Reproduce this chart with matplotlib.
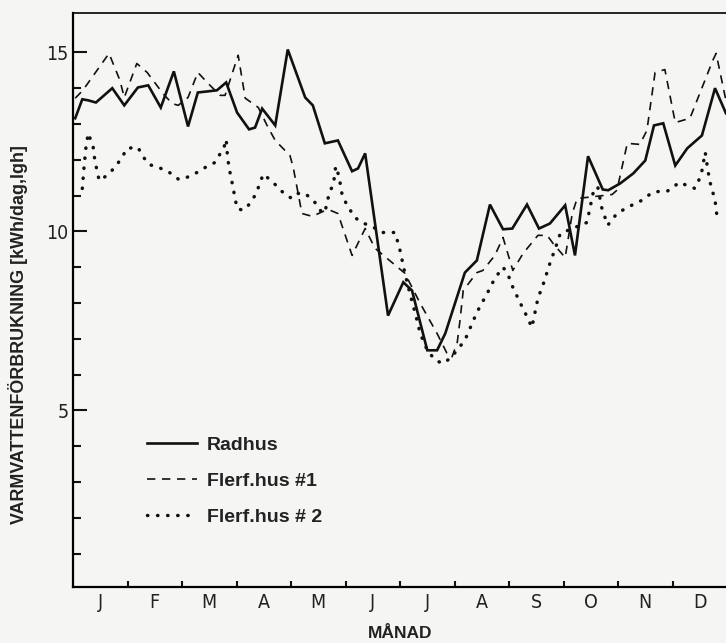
import matplotlib.pyplot as plt

# monthly axis: 0 = start of January, 12 = end of December
months = ["J", "F", "M", "A", "M", "J", "J", "A", "S", "O", "N", "D"]

radhus_x = [0.04, 0.17, 0.28, 0.42, 0.72, 0.94, 1.19, 1.38, 1.61, 1.85, 2.11, 2.29,
            2.64, 2.81, 3.01, 3.23, 3.34, 3.47, 3.71, 3.94, 4.26, 4.40, 4.62, 4.86,
            5.12, 5.23, 5.36, 5.78, 6.06, 6.22, 6.50, 6.68, 6.83, 7.19, 7.41, 7.65,
            7.89, 8.06, 8.33, 8.55, 8.75, 9.03, 9.21, 9.45, 9.72, 9.82, 10.04, 10.28,
            10.50, 10.66, 10.83, 11.05, 11.27, 11.54, 11.78, 11.98]
radhus_y = [13.16, 13.69, 13.66, 13.60, 14.00, 13.52, 14.02, 14.08, 13.46, 14.47, 12.93, 13.88,
            13.94, 14.16, 13.32, 12.85, 12.90, 13.43, 12.96, 15.08, 13.74, 13.52, 12.46, 12.54,
            11.68, 11.76, 12.18, 7.65, 8.58, 8.35, 6.68, 6.68, 7.15, 8.85, 9.19, 10.75,
            10.06, 10.08, 10.75, 10.08, 10.22, 10.73, 9.33, 12.10, 11.17, 11.15, 11.34, 11.62,
            11.98, 12.96, 13.02, 11.84, 12.32, 12.68, 14.00, 13.30]

flerf1_x = [0.04, 0.18, 0.66, 0.86, 0.94, 1.17, 1.36, 1.65, 1.82, 1.93, 2.11, 2.29,
            2.48, 2.70, 2.79, 3.03, 3.16, 3.40, 3.56, 3.71, 3.98, 4.04, 4.20, 4.39,
            4.59, 4.72, 4.86, 5.12, 5.36, 5.54, 5.87, 6.09, 6.37, 6.68, 6.86, 6.95,
            7.05, 7.10, 7.16, 7.41, 7.52, 7.74, 7.89, 8.07, 8.26, 8.53, 8.70, 8.81,
            9.03, 9.16, 9.25, 9.43, 9.89, 9.98, 10.17, 10.40, 10.53, 10.68, 10.86, 11.05,
            11.32, 11.74, 11.80, 11.98]
flerf1_y = [13.72, 13.94, 14.97, 14.22, 13.74, 14.69, 14.44, 13.85, 13.57, 13.52, 13.74, 14.44,
            14.13, 13.80, 13.80, 14.92, 13.72, 13.46, 12.96, 12.54, 12.12, 11.79, 10.50, 10.42,
            10.56, 10.59, 10.50, 9.33, 10.08, 9.53, 9.11, 8.83, 7.99, 7.15, 6.60, 6.48,
            6.90, 7.51, 8.35, 8.85, 8.91, 9.33, 9.83, 8.91, 9.39, 9.89, 9.89, 9.66,
            9.27, 10.50, 10.92, 10.95, 11.03, 11.15, 12.46, 12.43, 12.82, 14.44, 14.52, 13.04,
            13.16, 14.78, 14.97, 13.66]

flerf2_x = [0.17, 0.20, 0.24, 0.28, 0.37, 0.40, 0.48, 0.62, 0.77, 0.90, 0.99, 1.19,
            1.28, 1.39, 1.57, 1.80, 1.94, 2.09, 2.28, 2.43, 2.61, 2.68, 2.77, 2.81,
            2.83, 2.86, 2.90, 2.97, 3.01, 3.12, 3.25, 3.36, 3.49, 3.65, 3.76, 3.89,
            4.02, 4.13, 4.26, 4.42, 4.50, 4.56, 4.62, 4.70, 4.78, 4.82, 4.88, 4.94,
            5.03, 5.17, 5.30, 5.52, 5.67, 5.83, 5.91, 6.00, 6.09, 6.18, 6.28, 6.37,
            6.50, 6.65, 6.79, 6.94, 7.19, 7.41, 7.60, 7.74, 7.89, 7.98, 8.07, 8.20,
            8.32, 8.42, 8.53, 8.64, 8.75, 8.85, 8.94, 9.43, 9.56, 9.63, 9.70, 9.81,
            9.98, 10.17, 10.44, 10.63, 10.77, 10.90, 11.01, 11.12, 11.41, 11.47, 11.54, 11.60,
            11.63, 11.68, 11.78, 11.81, 11.92]
flerf2_y = [11.20, 11.76, 12.40, 12.74, 12.35, 11.98, 11.42, 11.56, 11.79, 12.07, 12.32, 12.35,
            12.10, 11.87, 11.79, 11.62, 11.45, 11.51, 11.65, 11.79, 11.93, 12.12, 12.35, 12.57,
            12.18, 11.79, 11.51, 10.95, 10.64, 10.59, 10.78, 11.06, 11.60, 11.40, 11.23, 11.03,
            10.92, 11.06, 11.06, 10.84, 10.70, 10.53, 10.53, 11.06, 11.34, 11.82, 11.54, 11.00,
            10.73, 10.39, 10.25, 10.11, 9.97, 9.97, 9.97, 9.47, 8.83, 8.27, 7.71, 7.15,
            6.68, 6.40, 6.31, 6.48, 6.96, 7.74, 8.27, 8.69, 9.00, 8.80, 8.44, 8.02,
            7.65, 7.32, 8.13, 8.58, 9.11, 9.53, 9.94, 10.25, 11.20, 11.23, 10.67, 10.17,
            10.50, 10.67, 10.87, 11.09, 11.12, 11.12, 11.23, 11.37, 11.20, 11.37, 11.70, 12.21,
            11.90, 11.42, 10.87, 10.50, 10.67]

bg = "#f5f5f3"
ink = "#111111"

fig = plt.figure(figsize=(7.26, 6.43), dpi=100, facecolor=bg)
ax = fig.add_axes([0.1006, 0.0871, 0.9008, 0.8927], facecolor=bg)

ax.plot(radhus_x, radhus_y, color=ink, lw=1.9, solid_joinstyle="miter", label="Radhus")
ax.plot(flerf1_x, flerf1_y, color=ink, lw=1.2, linestyle=(0, (5, 4)), label="Flerf.hus #1")
ax.plot(flerf2_x, flerf2_y, color=ink, lw=2.5, linestyle=(0, (0.1, 2.8)),
        dash_capstyle="round", label="Flerf.hus # 2")

ax.set_xlim(0, 12)
ax.set_ylim(0.07, 16.1)

ax.spines["right"].set_visible(False)
for s in ["left", "bottom"]:
    ax.spines[s].set_linewidth(1.6)
ax.spines["top"].set_linewidth(1.2)

ax.set_xticks(range(1, 12))
ax.set_xticklabels([])
ax.set_xticks([m + 0.5 for m in range(12)], minor=True)
ax.set_xticklabels(months, minor=True, fontsize=14, fontstretch="condensed",
                   fontfamily="DejaVu Sans", color="#222222")
ax.tick_params(axis="x", which="major", direction="in", length=4, width=1.5, color=ink)
ax.tick_params(axis="x", which="minor", length=0, pad=4)

ax.set_yticks([5, 10, 15])
ax.set_yticklabels(["5", "10", "15"], fontsize=14, fontstretch="condensed",
                   fontfamily="DejaVu Sans", color="#222222")
ax.set_yticks([v for v in range(1, 16) if v % 5], minor=True)
ax.tick_params(axis="y", which="major", direction="in", length=10, width=1.5, pad=3, color=ink)
ax.tick_params(axis="y", which="minor", direction="in", length=6, width=1.5, color=ink)

leg = ax.legend(loc="upper left", bbox_to_anchor=(0.113, 0.263), frameon=False,
                borderpad=0, borderaxespad=0, handlelength=2.6, handletextpad=0.5,
                labelspacing=0.95, prop={"family": "Liberation Sans", "weight": "bold", "size": 14})
for t in leg.get_texts():
    t.set_color("#222222")

fig.text(18 / 726, 1 - 335 / 643, "VARMVATTENFÖRBRUKNING [kWh/dag,lgh]", rotation=90,
         ha="center", va="center", fontsize=12.9, fontweight="bold",
         fontfamily="Liberation Sans", color="#222222")
fig.text(400 / 726, 1 - 633 / 643, "MÅNAD", ha="center", va="center", fontsize=12.5,
         fontweight="bold", fontfamily="Liberation Sans", color="#222222")

fig.savefig("out.png", dpi=100, facecolor=bg)
